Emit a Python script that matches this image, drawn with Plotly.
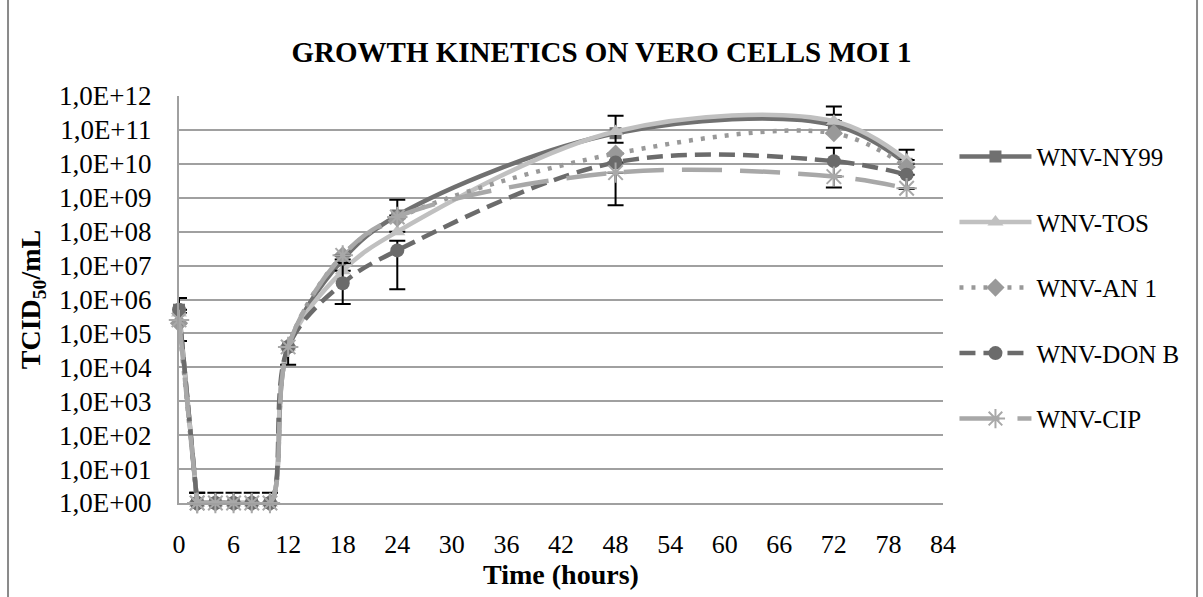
import plotly.graph_objects as go

# ---------------- data ----------------
hours = [0, 2, 4, 6, 8, 10, 12, 18, 24, 48, 72, 80]

ny99   = [5.0e5, 1, 1, 1, 1, 1, 4.0e4, 1.5e7, 3.0e8, 8.0e10, 1.4e11, 1.0e10]
tos    = [4.0e5, 1, 1, 1, 1, 1, 4.0e4, 7.0e6, 1.0e8, 9.0e10, 1.8e11, 1.3e10]
an1    = [2.0e5, 1, 1, 1, 1, 1, 4.0e4, 2.0e7, 2.5e8, 2.0e10, 8.0e10, 8.0e9]
donb   = [5.0e5, 1, 1, 1, 1, 1, 4.0e4, 3.0e6, 2.8e7, 1.1e10, 1.2e10, 4.8e9]
cip    = [2.5e5, 1, 1, 1, 1, 1, 4.0e4, 2.0e7, 2.7e8, 5.5e9, 4.2e9, 1.9e9]

# error bars (absolute, data units)
ny99_err_plus  = [6.0e5, 1, 1, 1, 1, 1, 0, 0, 5.7e8, 0, 1.4e11, 0]
ny99_err_minus = [4.4e5, 0, 0, 0, 0, 0, 0, 0, 0, 0, 0, 0]
tos_err_plus   = [0, 0, 0, 0, 0, 0, 0, 0, 0, 1.7e11, 3.1e11, 1.3e10]
tos_err_minus  = [0, 0, 0, 0, 0, 0, 0, 0, 0, 4.8e10, 0, 0]
an1_err_plus   = [0, 0, 0, 0, 0, 0, 0, 0, 0, 0, 0, 0]
an1_err_minus  = [0, 0, 0, 0, 0, 0, 0, 0, 0, 0, 0, 0]
donb_err_plus  = [0, 0, 0, 0, 0, 0, 0, 9.0e6, 2.6e7, 0, 1.8e10, 0]
donb_err_minus = [0, 0, 0, 0, 0, 0, 2.8e4, 2.26e6, 2.6e7, 0, 1.0e10, 3.0e9]
cip_err_plus   = [0, 0, 0, 0, 0, 0, 0, 0, 0, 0, 0, 0]
cip_err_minus  = [0, 0, 0, 0, 0, 0, 0, 0, 0, 4.9e9, 0, 0]

y_tick_values = [1e0, 1e1, 1e2, 1e3, 1e4, 1e5, 1e6, 1e7, 1e8, 1e9, 1e10, 1e11, 1e12]
y_tick_labels = ["1,0E+00", "1,0E+01", "1,0E+02", "1,0E+03", "1,0E+04", "1,0E+05",
                 "1,0E+06", "1,0E+07", "1,0E+08", "1,0E+09", "1,0E+10", "1,0E+11",
                 "1,0E+12"]

series = [
    ("WNV-NY99", ny99, ny99_err_plus, ny99_err_minus, "#707070", "solid", "square", 12),
    ("WNV-TOS", tos, tos_err_plus, tos_err_minus, "#c0c0c0", "solid", "triangle-up", 14),
    ("WNV-AN 1", an1, an1_err_plus, an1_err_minus, "#999999", "4px,8px", "diamond", 14),
    ("WNV-DON B", donb, donb_err_plus, donb_err_minus, "#6b6b6b", "16px,8px", "circle", 14),
    ("WNV-CIP", cip, cip_err_plus, cip_err_minus, "#a8a8a8", "40px,18px", "asterisk-open", 17),
]

SERIF = "Liberation Serif"

fig = go.Figure()
for i, (name, vals, ep, em, color, dash, sym, msize) in enumerate(series):
    marker = dict(symbol=sym, size=msize, color=color)
    if sym == "asterisk-open":
        marker["line"] = dict(color=color, width=2)
    # first (inoculum -> 2 h) segment drawn straight, like the reference
    fig.add_trace(go.Scatter(
        x=hours[:2], y=vals[:2], mode="lines+markers",
        line=dict(color=color, width=4.5, dash=dash),
        marker=marker,
        error_y=dict(type="data", symmetric=False, array=ep[:2], arrayminus=em[:2],
                     color="black", thickness=2, width=8),
        legendgroup=f"g{i}", showlegend=False, hoverinfo="skip",
        cliponaxis=False,
    ))
    # rest of the curve, smoothed
    fig.add_trace(go.Scatter(
        x=hours[1:], y=vals[1:], name=name, mode="lines+markers",
        line=dict(color=color, width=4.5, dash=dash, shape="spline", smoothing=1.0),
        marker=marker,
        error_y=dict(type="data", symmetric=False, array=ep[1:], arrayminus=em[1:],
                     color="black", thickness=2, width=8),
        legendgroup=f"g{i}",
        cliponaxis=False,
    ))

fig.update_layout(
    width=1203, height=597,
    margin=dict(l=179, r=260, t=96, b=94),
    paper_bgcolor="white", plot_bgcolor="white",
    font=dict(family=SERIF, size=25, color="black"),
    title=dict(text="<b>GROWTH KINETICS ON VERO CELLS MOI 1</b>",
               font=dict(family=SERIF, size=29, color="black"),
               xref="container", x=0.5, xanchor="center",
               yref="container", y=1 - 52/597, yanchor="middle"),
    legend=dict(x=1.015, xanchor="left", y=0.907, yanchor="top",
                font=dict(family=SERIF, size=25, color="black"),
                tracegroupgap=30, itemwidth=72, bgcolor="rgba(0,0,0,0)"),
    showlegend=True,
)

fig.update_xaxes(
    range=[0, 84], tick0=0, dtick=6, showgrid=False,
    showline=True, linecolor="#a0a0a0", linewidth=2,
    ticks="", ticklabelstandoff=17,
    tickfont=dict(family=SERIF, size=26),
    title=dict(text="<b>Time (hours)</b>", font=dict(family=SERIF, size=28), standoff=6),
    zeroline=False,
)
fig.update_yaxes(
    type="log", range=[0, 12], tickvals=y_tick_values, ticktext=y_tick_labels,
    showgrid=True, gridcolor="#a0a0a0", gridwidth=2,
    showline=True, linecolor="#a0a0a0", linewidth=2,
    ticks="", ticklabelstandoff=20,
    tickfont=dict(family=SERIF, size=27),
    title=dict(text="<b>TCID<sub>50</sub>/mL</b>", font=dict(family=SERIF, size=28), standoff=10),
    zeroline=False,
)

# outer chart frame (decorative)
fig.add_shape(type="rect", xref="paper", yref="paper",
              x0=-0.2238, x1=1.3325, y0=-0.25, y1=1.26,
              line=dict(color="#8a8a8a", width=2), fillcolor="rgba(0,0,0,0)", layer="below")

fig.write_html("out.html")
